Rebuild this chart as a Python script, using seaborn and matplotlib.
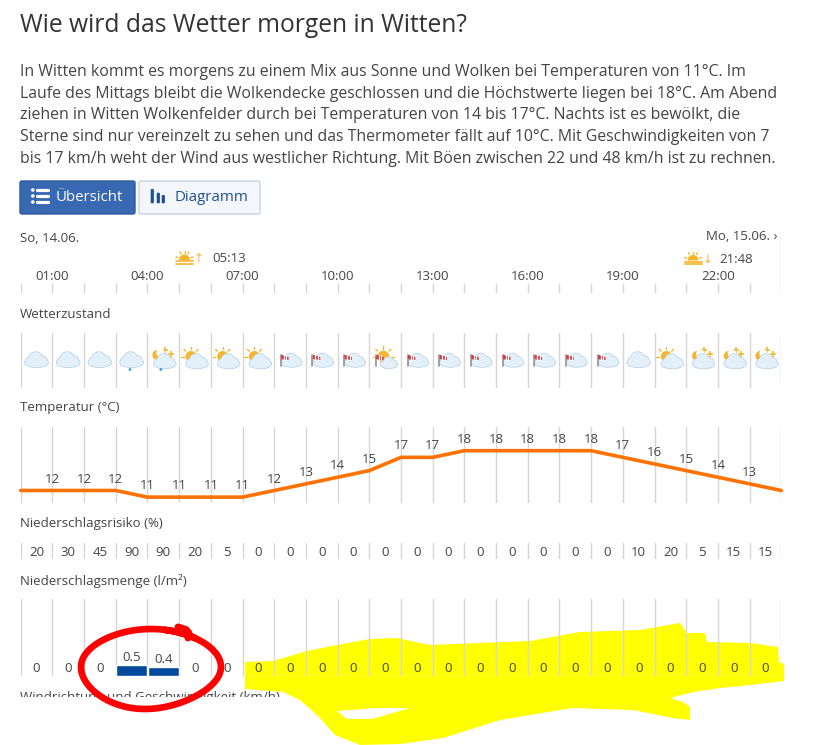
import numpy as np
import matplotlib
matplotlib.use("Agg")
import matplotlib.pyplot as plt
import seaborn as sns
from matplotlib.patches import Ellipse, Circle, FancyBboxPatch, Polygon, Wedge, Rectangle

sns.set_theme(style="white")
plt.rcParams['font.family'] = ['Open Sans', 'DejaVu Sans']

# ---------------- data ----------------
title = "Wie wird das Wetter morgen in Witten?"
paragraph = [
    "In Witten kommt es morgens zu einem Mix aus Sonne und Wolken bei Temperaturen von 11°C. Im",
    "Laufe des Mittags bleibt die Wolkendecke geschlossen und die Höchstwerte liegen bei 18°C. Am Abend",
    "ziehen in Witten Wolkenfelder durch bei Temperaturen von 14 bis 17°C. Nachts ist es bewölkt, die",
    "Sterne sind nur vereinzelt zu sehen und das Thermometer fällt auf 10°C. Mit Geschwindigkeiten von 7",
    "bis 17 km/h weht der Wind aus westlicher Richtung. Mit Böen zwischen 22 und 48 km/h ist zu rechnen.",
]
day_left = "So, 14.06."
day_right = "Mo, 15.06. ›"
sunrise = "05:13"
sunset = "21:48"
tick_hours = [1, 4, 7, 10, 13, 16, 19, 22]
tick_labels = ["01:00", "04:00", "07:00", "10:00", "13:00", "16:00", "19:00", "22:00"]

icons = ["cloud", "cloud", "cloud", "rain", "moon_rain", "sun", "sun", "sun",
         "wind", "wind", "wind", "sun_wind", "wind", "wind", "wind", "wind",
         "wind", "wind", "wind", "cloud", "sun", "moon", "moon", "moon"]

temp_hours = [0, 1, 2, 3, 4, 5, 6, 7, 8, 9, 10, 11, 12, 13, 14, 15, 16, 17, 18, 19, 20, 21, 22, 23, 24]
temperature = [12, 12, 12, 12, 11, 11, 11, 11, 12, 13, 14, 15, 17, 17, 18, 18, 18, 18, 18, 17, 16, 15, 14, 13, 12]
labeled_hours = [1, 2, 3, 4, 5, 6, 7, 8, 9, 10, 11, 12, 13, 14, 15, 16, 17, 18, 19, 20, 21, 22, 23]

cell_pos = [0.5, 1.5, 2.5, 3.5, 4.5, 5.5, 6.5, 7.5, 8.5, 9.5, 10.5, 11.5,
            12.5, 13.5, 14.5, 15.5, 16.5, 17.5, 18.5, 19.5, 20.5, 21.5, 22.5, 23.5]
rain_risk = [20, 30, 45, 90, 90, 20, 5, 0, 0, 0, 0, 0, 0, 0, 0, 0, 0, 0, 0, 10, 20, 5, 15, 15]
rain_amount = [0, 0, 0, 0.5, 0.4, 0, 0, 0, 0, 0, 0, 0, 0, 0, 0, 0, 0, 0, 0, 0, 0, 0, 0, 0]

# ---------------- layout ----------------
W, H, DPI = 832, 745, 100
X0, X1 = 20.7, 781.3
CW = (X1 - X0) / 24.0
TXT = '#444444'
GRID = '#d6d6d6'
ORANGE = '#ff7200'
YEL = '#f6b52c'

fig = plt.figure(figsize=(W / DPI, H / DPI), dpi=DPI)


def box(x0, y0, x1, y1):
    return [x0 / W, 1 - y1 / H, (x1 - x0) / W, (y1 - y0) / H]


def style(ax):
    ax.set_xlim(0, 24)
    ax.set_xticks(range(25))
    ax.set_yticks([])
    ax.grid(axis='x', color=GRID, lw=1.0)
    ax.grid(axis='y', visible=False)
    ax.tick_params(length=0, labelbottom=False, labelleft=False)
    for sp in ax.spines.values():
        sp.set_visible(False)
    ax.set_facecolor('none')
    ax.set_xlabel('')
    ax.set_ylabel('')


page = fig.add_axes([0, 0, 1, 1])
page.set_xlim(0, W)
page.set_ylim(H, 0)
page.axis('off')

# title + paragraph
page.text(20, 25, title, fontsize=17.7, color='#333333', va='center', ha='left')
for k, line in enumerate(paragraph):
    page.text(20, 72 + k * 21.7, line, fontsize=11.4, color=TXT, va='center', ha='left')

# buttons
page.add_patch(FancyBboxPatch((20, 181), 115, 33, boxstyle='round,pad=0,rounding_size=2',
                              fc='#3768b1', ec='#2d5b9f', lw=1))
for yy in [190, 196, 202]:
    page.add_patch(Circle((32.8, yy), 1.8, fc='white', ec='none'))
    page.plot([37, 47.5], [yy, yy], color='white', lw=2.3, solid_capstyle='round')
page.text(56, 197.5, "Übersicht", fontsize=10.8, color='white', va='center', ha='left')

page.add_patch(FancyBboxPatch((139, 181), 121, 33, boxstyle='round,pad=0,rounding_size=2',
                              fc='#f3f7fc', ec='#c7d4e5', lw=1))
for bx, top in [(150.7, 189), (156.7, 192.7), (161.7, 195)]:
    page.add_patch(FancyBboxPatch((bx, top), 3.2, 203.3 - top, boxstyle='round,pad=0,rounding_size=1',
                                  fc='#1f4f93', ec='none'))
page.text(175, 197.5, "Diagramm", fontsize=10.8, color='#1f4f93', va='center', ha='left')

# date header
page.text(20, 238, day_left, fontsize=9.5, color=TXT, va='center', ha='left')
page.text(778, 237, day_right, fontsize=9.5, color=TXT, va='center', ha='right')


def sun_horizon(cx, cy):
    page.add_patch(Wedge((cx, cy + 2), 5.5, 180, 360, fc=YEL, ec='none'))
    for ang in [200, 240, 270, 300, 340]:
        a = np.deg2rad(ang)
        page.plot([cx + 7 * np.cos(a), cx + 9 * np.cos(a)],
                  [cy + 2 + 7 * np.sin(a), cy + 2 + 9 * np.sin(a)], color=YEL, lw=1)
    page.plot([cx - 8.5, cx + 8.5], [cy + 3.2, cy + 3.2], color=YEL, lw=1.2)
    page.plot([cx - 8.5, cx + 8.5], [cy + 5.6, cy + 5.6], color=YEL, lw=1.2)


sun_horizon(184.5, 258)
page.text(199, 259, "↑", fontsize=8.5, color=YEL, va='center', ha='center', family=['DejaVu Sans'])
page.text(212, 259, sunrise, fontsize=9.5, color=TXT, va='center', ha='left')
sun_horizon(693, 258.5)
page.text(707.7, 259.5, "↓", fontsize=8.5, color=YEL, va='center', ha='center', family=['DejaVu Sans'])
page.text(719, 259.5, sunset, fontsize=9.5, color=TXT, va='center', ha='left')

# section labels
for lab, yy in [("Wetterzustand", 314), ("Temperatur (°C)", 408),
                ("Niederschlagsrisiko (%)", 524), ("Niederschlagsmenge (l/m²)", 580.7)]:
    page.text(20, yy, lab, fontsize=9.5, color=TXT, va='center', ha='left')
page.text(20, 700.5, "Windrichtung und Geschwindigkeit (km/h)", fontsize=9.5, color=TXT,
          va='baseline', ha='left', zorder=1)
page.add_patch(Rectangle((0, 696.5), W, 60, fc='white', ec='none', zorder=2))

# yellow highlighter
yellow_pts = [(245, 662), (273, 661), (307, 651), (337, 645), (370, 639), (397, 638), (430, 645),
              (530, 641), (580, 632), (640, 630), (680, 623), (687, 633), (705, 633), (707, 642),
              (750, 643), (778, 647), (779, 662), (784, 664), (784, 681), (750, 685), (720, 688),
              (693, 692), (670, 698), (683, 702), (690, 707), (690, 720), (673, 718), (633, 710),
              (572, 708), (500, 720), (443, 738), (400, 744), (360, 745), (335, 735), (320, 718),
              (300, 700), (283, 692), (245, 689)]
page.add_patch(Polygon(yellow_pts, closed=True, fc='#ffff00', ec='none', zorder=3))
page.add_patch(Polygon([(337, 711), (347, 719), (372, 719), (410, 708), (375, 708)], closed=True,
                       fc='white', ec='none', zorder=4))

# ---------------- header ticks ----------------
axH = fig.add_axes(box(X0, 228, X1, 293))
style(axH)
axH.grid(False)
axH.set_ylim(0, 65)
axH.vlines(range(24), 0, 10, color=GRID, lw=1)
axH.vlines([24], 0, 65, color=GRID, lw=1)
for h, lab in zip(tick_hours, tick_labels):
    axH.text(h, 16, lab, fontsize=9.5, color=TXT, ha='center', va='center')

# ---------------- weather icons ----------------
axI = fig.add_axes(box(X0, 333.3, X1, 387.7))
style(axI)
s = 1.0 / CW
axI.set_ylim(-(387.7 - 360) * s, (360 - 333.3) * s)


def P(cx, dx, dy):
    return (cx + dx * s, dy * s)


def cloud(cx, dx=0, dy=0, sc=1.0, z=3):
    parts = [('e', 0, -2.5, 23, 9.5), ('c', -1, 1.3, 6.6), ('c', 5.4, -0.8, 4.8), ('c', -6.4, -1.5, 4.4)]
    for layer in (0, 1):
        for p in parts:
            ec = '#bcd5ea' if layer == 0 else 'none'
            lw = 1.2 if layer == 0 else 0
            if p[0] == 'e':
                patch = Ellipse(P(cx, dx + p[1] * sc, dy + p[2] * sc), p[3] * sc * s, p[4] * sc * s,
                                fc='#e3eff9', ec=ec, lw=lw, zorder=z + layer * 0.1)
            else:
                patch = Circle(P(cx, dx + p[1] * sc, dy + p[2] * sc), p[3] * sc * s,
                               fc='#e3eff9', ec=ec, lw=lw, zorder=z + layer * 0.1)
            axI.add_patch(patch)


def sun(cx, dx, dy, r=5.5, z=2):
    axI.add_patch(Circle(P(cx, dx, dy), r * s, fc=YEL, ec='none', zorder=z))
    for ang in [0, 45, 90, 135, 180]:
        a = np.deg2rad(ang)
        x0, y0 = P(cx, dx + (r + 2) * np.cos(a), dy + (r + 2) * np.sin(a))
        x1, y1 = P(cx, dx + (r + 4.5) * np.cos(a), dy + (r + 4.5) * np.sin(a))
        axI.plot([x0, x1], [y0, y1], color=YEL, lw=1.0, zorder=z)


def moon(cx, dx, dy, r=5.0, z=2):
    axI.add_patch(Circle(P(cx, dx, dy), r * s, fc=YEL, ec='none', zorder=z))
    axI.add_patch(Circle(P(cx, dx + 3.2, dy + 2.2), r * 0.85 * s, fc='white', ec='none', zorder=z + 0.05))
    for sx, sy in [(1.8, 10), (7.5, 6)]:
        axI.plot(*P(cx, sx, sy), marker='+', ms=4, mew=1.1, color=YEL, zorder=z)


def drop(cx, dx, dy):
    axI.add_patch(Circle(P(cx, dx, dy), 1.4 * s, fc='#3f9be0', ec='none', zorder=4))


def windsock(cx, dx=0, dy=0):
    axI.plot(*zip(P(cx, dx - 9.3, dy + 5.5), P(cx, dx - 9.3, dy - 6)), color='#9a9a9a', lw=1.3, zorder=5)
    pts = [P(cx, dx - 8.8, dy + 5.3), P(cx, dx - 1.5, dy + 3.0), P(cx, dx - 1.5, dy + 0.0), P(cx, dx - 8.8, dy + 0.8)]
    axI.add_patch(Polygon(pts, closed=True, fc='#e0343c', ec='none', zorder=5))
    for xx in [-6.3, -3.8]:
        axI.plot(*zip(P(cx, dx + xx, dy + 4.7), P(cx, dx + xx, dy + 0.2)), color='white', lw=0.9, zorder=5.1)


for xc, kind in zip(cell_pos, icons):
    if kind == 'cloud':
        cloud(xc)
    elif kind == 'rain':
        cloud(xc)
        drop(xc, -1.6, -9.5)
    elif kind == 'moon_rain':
        moon(xc, -6, 5)
        cloud(xc, 1.5, -1.5, 0.95)
        drop(xc, -2.5, -9.5)
    elif kind == 'sun':
        sun(xc, -4, 3.5)
        cloud(xc, 2, -1.5, 0.95)
    elif kind == 'moon':
        moon(xc, -5, 4)
        cloud(xc, 1.5, -1.5, 0.95)
    elif kind == 'wind':
        cloud(xc, 1.5, -0.5, 0.88)
        windsock(xc)
    elif kind == 'sun_wind':
        sun(xc, -1.8, 3.3, 6.0)
        cloud(xc, 4, -3, 0.72)
        windsock(xc)

# ---------------- temperature ----------------
axT = fig.add_axes(box(X0, 426.7, X1, 502.7))
sns.lineplot(x=temp_hours, y=temperature, ax=axT, color=ORANGE, lw=2.6)
style(axT)
axT.set_ylim(10.16, 21.62)
for ln in axT.lines:
    ln.set_clip_on(False)
    ln.set_solid_joinstyle('round')
    ln.set_solid_capstyle('round')
for h in labeled_hours:
    t = temperature[temp_hours.index(h)]
    axT.annotate(str(t), (h, t), xytext=(0, 8.2), textcoords='offset points',
                 ha='center', va='center', fontsize=9.5, color=TXT)

# ---------------- rain risk ----------------
axR = fig.add_axes(box(X0, 543.3, X1, 559.3))
style(axR)
axR.set_ylim(0, 1)
for xc, v in zip(cell_pos, rain_risk):
    axR.text(xc, 0.45, str(v), ha='center', va='center', fontsize=9.5, color=TXT)

# ---------------- rain amount ----------------
axA = fig.add_axes(box(X0, 599.3, X1, 676))
sns.barplot(x=cell_pos, y=rain_amount, native_scale=True, width=0.97, color='#034a9c',
            saturation=1, errorbar=None, ax=axA)
style(axA)
axA.set_ylim(0, 3.49)
for xc, v in zip(cell_pos, rain_amount):
    lab = '0' if v == 0 else f'{v:g}'
    axA.annotate(lab, (xc, v), xytext=(0, 5.3), textcoords='offset points',
                 ha='center', va='center', fontsize=9.5, color=TXT)

# ---------------- red circle overlay ----------------
over = fig.add_axes([0, 0, 1, 1])
over.set_xlim(0, W)
over.set_ylim(H, 0)
over.axis('off')
over.set_facecolor('none')
tt = np.linspace(-1.35, -1.35 + 2 * np.pi + 0.5, 200)
rx = 67 + 3 * np.cos(2 * tt)
ry = 40 + 2 * np.sin(tt)
xs = 151 + rx * np.cos(tt) - 6 * np.sin(tt) ** 2 * (np.sin(tt) > 0)
ys = 667 + ry * np.sin(tt)
over.plot(xs, ys, color='#ff0000', lw=4.8, solid_capstyle='round', solid_joinstyle='round')
over.plot([178, 186, 189, 188], [627, 629.5, 633, 638], color='#ff0000', lw=5.0, solid_capstyle='round')

fig.savefig('out.png', dpi=DPI)
